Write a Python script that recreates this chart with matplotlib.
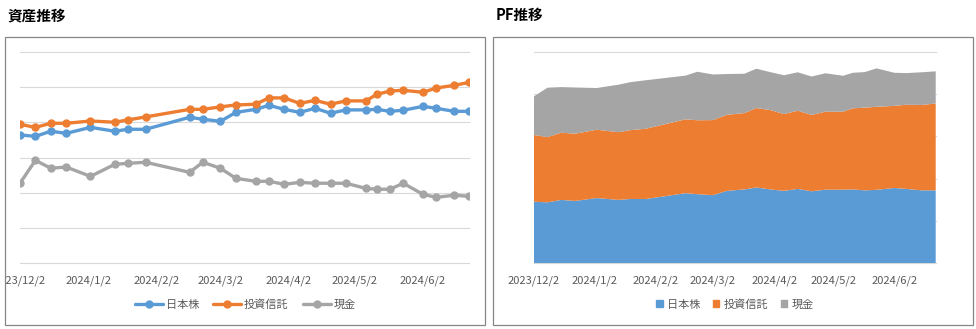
import matplotlib
matplotlib.use('Agg')
import matplotlib.pyplot as plt
import matplotlib.dates as mdates
from matplotlib.patches import Rectangle, Patch
from matplotlib.lines import Line2D
from matplotlib.transforms import Bbox, TransformedBbox
from datetime import datetime

plt.rcParams['font.family'] = ['Noto Sans CJK JP', 'DejaVu Sans']

# data (unit: grid step 20 on the left chart)
dates = ['2023-12-02', '2023-12-09', '2023-12-16', '2023-12-23', '2024-01-03',
         '2024-01-14', '2024-01-20', '2024-01-28', '2024-02-17', '2024-02-23',
         '2024-03-02', '2024-03-09', '2024-03-18', '2024-03-24', '2024-03-31',
         '2024-04-07', '2024-04-14', '2024-04-21', '2024-04-28', '2024-05-07',
         '2024-05-12', '2024-05-18', '2024-05-24', '2024-06-02', '2024-06-08',
         '2024-06-16', '2024-06-23']
stocks = [72.8, 72.0, 74.9, 73.7, 77.1, 74.9, 76.0, 76.0, 82.8, 81.7,
          80.5, 85.6, 87.3, 89.6, 87.3, 85.6, 87.9, 85.1, 87.0, 87.0,
          87.3, 86.2, 86.8, 89.0, 87.9, 86.2, 86.2]
funds = [78.8, 77.1, 79.4, 79.4, 80.7, 80.0, 81.3, 83.0, 87.3, 87.3,
         88.7, 89.8, 90.2, 93.8, 93.8, 90.7, 92.4, 90.2, 92.1, 92.1,
         95.8, 97.7, 98.1, 97.0, 99.4, 100.9, 102.6]
cash = [45.4, 58.4, 53.9, 54.6, 49.3, 56.1, 56.7, 57.3, 51.6, 57.3,
        53.9, 48.2, 46.5, 46.5, 44.8, 45.9, 45.4, 45.4, 45.4, 42.5,
        42.0, 42.0, 45.4, 39.1, 37.4, 38.6, 38.0]
names = ['日本株', '投資信託', '現金']
tick_dates = ['2023-12-02', '2024-01-02', '2024-02-02', '2024-03-02',
              '2024-04-02', '2024-05-02', '2024-06-02']
tick_labels = ['2023/12/2', '2024/1/2', '2024/2/2', '2024/3/2',
               '2024/4/2', '2024/5/2', '2024/6/2']

colors = ['#5B9BD5', '#ED7D31', '#A5A5A5']
grid_color = '#D9D9D9'
text_color = '#595959'

x = [datetime.strptime(d, '%Y-%m-%d') for d in dates]
xt = [datetime.strptime(d, '%Y-%m-%d') for d in tick_dates]

W, H = 976, 329
fig = plt.figure(figsize=(W / 100, H / 100), dpi=100)


def frac(x0, y0, x1, y1):
    # pixel box (top-left origin) -> figure fraction rect
    return [x0 / W, 1 - y1 / H, (x1 - x0) / W, (y1 - y0) / H]


def frame(x0, y0, x1, y1):
    r = Rectangle((x0 / W, 1 - y1 / H), (x1 - x0) / W, (y1 - y0) / H,
                  transform=fig.transFigure, fill=False, edgecolor='#868686', lw=0.9)
    fig.patches.append(r)
    return TransformedBbox(Bbox.from_bounds(x0 / W, 1 - y1 / H, (x1 - x0) / W, (y1 - y0) / H),
                           fig.transFigure)


def style(ax, ymax, step, clipbox):
    ax.set_xlim(x[0], x[-1])
    ax.set_ylim(0, ymax)
    ax.set_yticks(range(0, ymax + 1, step))
    ax.set_yticklabels([])
    ax.set_xticks(xt)
    ax.set_xticklabels(tick_labels)
    ax.tick_params(length=0, labelsize=8, labelcolor=text_color, pad=9)
    ax.tick_params(axis='y', left=False)
    for s in ax.spines.values():
        s.set_visible(False)
    ax.yaxis.grid(True, color=grid_color, lw=0.8)
    ax.set_axisbelow(True)
    for g in ax.get_ygridlines():
        g.set_clip_on(False)
    for lbl in ax.get_xticklabels():
        lbl.set_clip_box(clipbox)
        lbl.set_clip_on(True)


# left: 資産推移
box1 = frame(5.3, 37.3, 485.3, 325.3)
fig.text(7 / W, 1 - 15 / H, '資産推移', fontsize=10.5, fontweight='bold', va='center', ha='left')
ax1 = fig.add_axes(frac(20, 51.7, 469.3, 263.3))
for vals, c, n in zip([stocks, funds, cash], colors, names):
    ax1.plot(x, vals, color=c, lw=2.4, marker='o', markersize=5, label=n, solid_capstyle='round')
style(ax1, 120, 20, box1)
ax1.legend(loc='center', bbox_to_anchor=(245.3 / W, 1 - 304.5 / H), bbox_transform=fig.transFigure,
           ncol=3, frameon=False, fontsize=8, labelcolor=text_color, handlelength=2.5,
           handletextpad=0.25, columnspacing=1.3)

# right: PF推移
box2 = frame(493.3, 37.3, 973.3, 325.3)
fig.text(496 / W, 1 - 15 / H, 'PF推移', fontsize=10.5, fontweight='bold', va='center', ha='left')
ax2 = fig.add_axes(frac(533.7, 51.7, 935.7, 263.3))
ax2.stackplot(x, stocks, funds, cash, colors=colors, lw=0)
style(ax2, 250, 50, box2)
handles = [Patch(color=c, label=n) for c, n in zip(colors, names)]
ax2.legend(handles=handles, loc='center', bbox_to_anchor=(735 / W, 1 - 304.5 / H),
           bbox_transform=fig.transFigure, ncol=3, frameon=False, fontsize=8,
           labelcolor=text_color, handlelength=0.6, handleheight=0.6,
           handletextpad=0.4, columnspacing=1.1)

fig.savefig('out.png', dpi=100)
